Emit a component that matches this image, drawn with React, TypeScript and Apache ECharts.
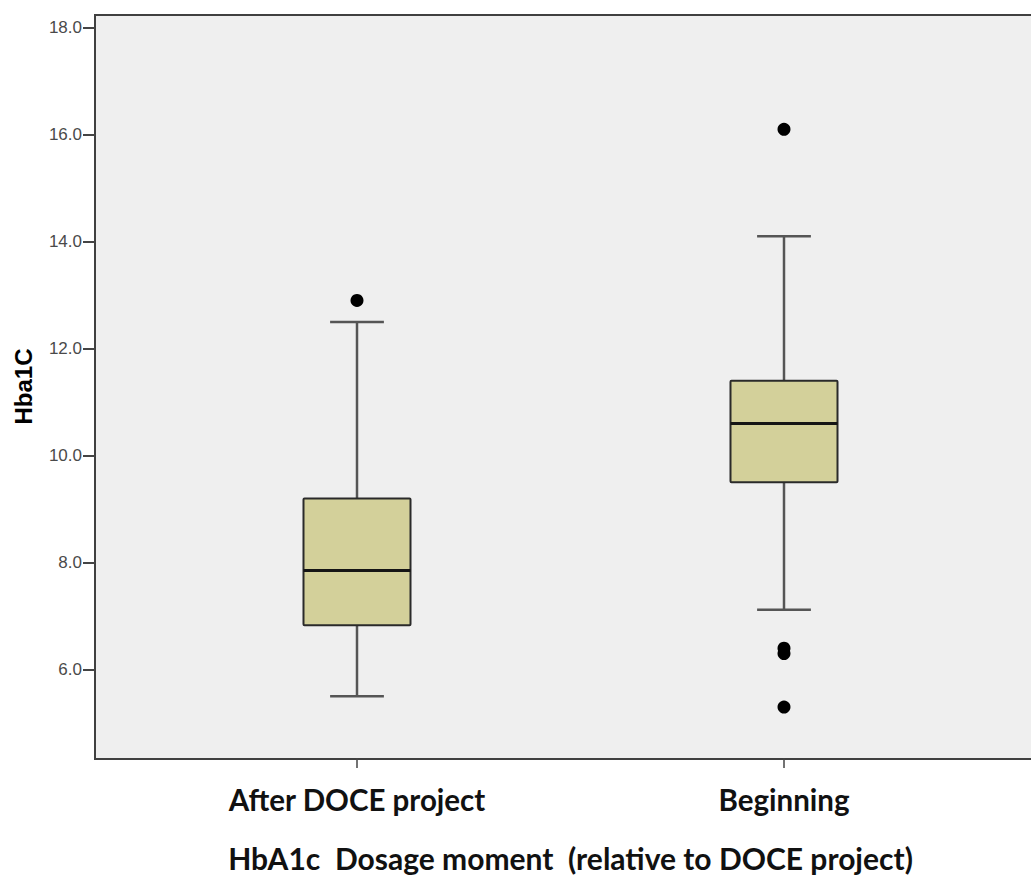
import React, { useEffect, useRef } from "react";
import * as echarts from "echarts";

const categories = ["After DOCE project", "Beginning"];
const whiskerLow = [5.5, 7.12];
const quartile1 = [6.83, 9.5];
const medians = [7.85, 10.6];
const quartile3 = [9.2, 11.4];
const whiskerHigh = [12.5, 14.1];

const outlierCategory = [0, 1, 1, 1, 1];
const outlierValues = [12.9, 16.1, 6.4, 6.3, 5.3];

const yTicks = [6, 8, 10, 12, 14, 16, 18];

export default function App() {
  const ref = useRef<HTMLDivElement>(null);

  useEffect(() => {
    if (!ref.current) return;
    const chart = echarts.init(ref.current, null, { renderer: "svg" });

    const boxData = categories.map((_, i) => [
      i,
      whiskerLow[i],
      quartile1[i],
      medians[i],
      quartile3[i],
      whiskerHigh[i],
    ]);
    const outlierData = outlierValues.map((v, i) => [outlierCategory[i], v]);

    const renderBox = (params: any, api: any) => {
      const idx = api.value(0);
      const pLow = api.coord([idx, api.value(1)]);
      const pQ1 = api.coord([idx, api.value(2)]);
      const pMed = api.coord([idx, api.value(3)]);
      const pQ3 = api.coord([idx, api.value(4)]);
      const pHigh = api.coord([idx, api.value(5)]);
      const band = api.size([1, 0])[0];
      const boxW = band * 0.2506;
      const capW = band * 0.126;
      const cx = pMed[0];
      const whiskerStyle = { stroke: "#555555", lineWidth: 2.5 };
      return {
        type: "group",
        children: [
          { type: "line", shape: { x1: cx, y1: pHigh[1], x2: cx, y2: pQ3[1] }, style: whiskerStyle },
          { type: "line", shape: { x1: cx, y1: pQ1[1], x2: cx, y2: pLow[1] }, style: whiskerStyle },
          { type: "line", shape: { x1: cx - capW / 2, y1: pHigh[1], x2: cx + capW / 2, y2: pHigh[1] }, style: whiskerStyle },
          { type: "line", shape: { x1: cx - capW / 2, y1: pLow[1], x2: cx + capW / 2, y2: pLow[1] }, style: whiskerStyle },
          {
            type: "rect",
            shape: { x: cx - boxW / 2, y: pQ3[1], width: boxW, height: pQ1[1] - pQ3[1], r: 1 },
            style: { fill: "#d3d09a", stroke: "#2a2a2a", lineWidth: 2 },
          },
          {
            type: "line",
            shape: { x1: cx - boxW / 2, y1: pMed[1], x2: cx + boxW / 2, y2: pMed[1] },
            style: { stroke: "#151515", lineWidth: 3 },
          },
        ],
      };
    };

    chart.setOption({
      animation: false,
      backgroundColor: "#ffffff",
      graphic: [
        {
          type: "rect",
          z: -1,
          silent: true,
          shape: { x: 95, y: 15, width: 1000, height: 744 },
          style: { fill: "#efefef", stroke: "#404040", lineWidth: 2 },
        },
      ],
      grid: { left: 143.5, right: 33.5, top: 15, bottom: 119 },
      xAxis: {
        type: "category",
        data: categories,
        boundaryGap: true,
        axisLine: { show: false },
        axisTick: { show: true, alignWithLabel: true, length: 10, lineStyle: { color: "#444", width: 1.5 } },
        axisLabel: {
          margin: 26,
          fontFamily: "Lato",
          fontWeight: "bold",
          fontSize: 29.5,
          color: "#111111",
        },
        name: "HbA1c  Dosage moment  (relative to DOCE project)",
        nameLocation: "middle",
        nameGap: 85,
        nameTextStyle: {
          fontFamily: "Lato",
          fontWeight: "bold",
          fontSize: 30,
          color: "#111111",
        },
        splitLine: { show: false },
      },
      yAxis: {
        type: "value",
        min: 4.347,
        max: 18.237,
        offset: 48.5,
        axisLine: { show: false },
        axisTick: { show: true, length: 12, customValues: yTicks, lineStyle: { color: "#444", width: 2 } },
        axisLabel: {
          customValues: yTicks,
          margin: 13,
          fontFamily: "Liberation Sans, Arial, sans-serif",
          fontSize: 17,
          color: "#4a4a4a",
          formatter: (v: number) => v.toFixed(1),
        },
        splitLine: { show: false },
        name: "Hba1C",
        nameLocation: "middle",
        nameRotate: 90,
        nameGap: 60,
        nameTextStyle: {
          fontFamily: "Liberation Sans, Arial, sans-serif",
          fontWeight: "bold",
          fontSize: 24,
          color: "#000000",
        },
      },
      series: [
        {
          type: "custom",
          name: "HbA1c",
          renderItem: renderBox,
          encode: { x: 0, y: [1, 2, 3, 4, 5] },
          data: boxData,
          z: 2,
        },
        {
          type: "scatter",
          name: "Outliers",
          data: outlierData,
          symbol: "circle",
          symbolSize: 13,
          itemStyle: { color: "#000000", opacity: 1 },
          z: 3,
        },
      ],
    });

    return () => {
      chart.dispose();
    };
  }, []);

  return (
    <div
      ref={ref}
      style={{ position: "absolute", left: 0, top: 0, width: 1031, height: 878 }}
    />
  );
}
